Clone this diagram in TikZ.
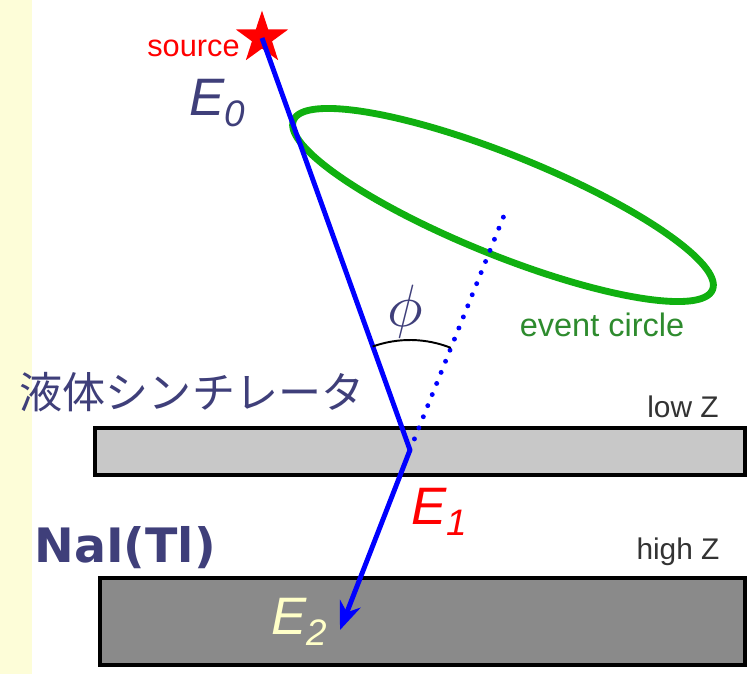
\documentclass[tikz,border=0pt]{standalone}
\usepackage{fontspec}
\setmainfont{Liberation Sans}
\newfontfamily\jpfont{Noto Sans CJK JP}
\newfontfamily\boldfont{DejaVu Sans}
\usetikzlibrary{arrows.meta, positioning, shapes.geometric}
\definecolor{slate}{HTML}{3F3F7A}
\definecolor{strip}{HTML}{FDFDD8}
\definecolor{ring}{HTML}{10B010}
\definecolor{ringtext}{HTML}{2E8B2E}
\definecolor{lowgray}{HTML}{C8C8C8}
\definecolor{highgray}{HTML}{8A8A8A}
\definecolor{paleE}{HTML}{FFFFC8}
\tikzset{
  beam/.style={blue, line width=2.8pt},
  slab/.style={draw=black, line width=2.3pt, fill=#1},
  elab/.style={inner sep=0pt, font=\fontsize{30}{30}\selectfont\itshape},
  tag/.style={inner sep=0pt, font=\fontsize{17}{17}\selectfont, text=black!80},
}

\begin{document}
\begin{tikzpicture}[x=0.02cm, y=0.02cm]
    \useasboundingbox (0,0) rectangle (747,674);
    \fill[strip] (0,0) rectangle (32,674);
    % detectors
    \draw[slab=lowgray] (95,199) rectangle (745,246);
    \draw[slab=highgray] (100,9) rectangle (745,96);
    \node[tag] (lowz) at (683,267) {low Z};
    \node[tag] (highz) at (678,122) {high Z};
    \node[inner sep=0pt, text=slate, font=\jpfont\fontsize{24.5}{24.5}\selectfont] (ls) at (192,282) {液体シンチレータ};
    \node[inner sep=0pt, text=slate, font=\boldfont\bfseries\fontsize{27}{27}\selectfont] (nai) at (125,126) {NaI(Tl)};
    % event circle
    \draw[ring, line width=3.9pt] (503,469) ellipse[x radius=226, y radius=50, rotate=-22];
    \node[inner sep=0pt, text=ringtext, font=\fontsize{18.5}{18.5}\selectfont] (evc) at (602,349) {event circle};
    % gamma path
    \coordinate (scatter) at (410,224);
    \coordinate (axis) at (507,466);
    \coordinate (hit) at (340,44);
    \node[star, star points=5, star point ratio=2.6, minimum size=1.1cm, inner sep=0pt, fill=red] (src) at (262,636) {};
    \draw[beam] (src.center) -- (scatter);
    \draw[beam, -{Stealth[length=16pt, width=12.5pt]}] (scatter) -- (hit);
    \draw[blue, line width=2.8pt, line cap=round, dash pattern=on 0pt off 6.8pt] (scatter) -- (axis);
    \draw[black, line width=1.1pt] (scatter) ++(68.2:110) arc[start angle=68.2, end angle=109.85, radius=110];
    \node[text=slate, inner sep=0pt] (phi) at (405,362) {\scalebox{3.4}{$\phi$}};
    % labels
    \node[inner sep=0pt, anchor=east, text=red, font=\fontsize{17.5}{17.5}\selectfont] (srclab) at (240,626) {source};
    \node[elab, text=slate] (e0) at (218,571) {E\textsubscript{0}};
    \node[elab, text=red] (e1) at (440,162) {E\textsubscript{1}};
    \node[elab, text=paleE] (e2) at (300,52) {E\textsubscript{2}};
\end{tikzpicture}
\end{document}
